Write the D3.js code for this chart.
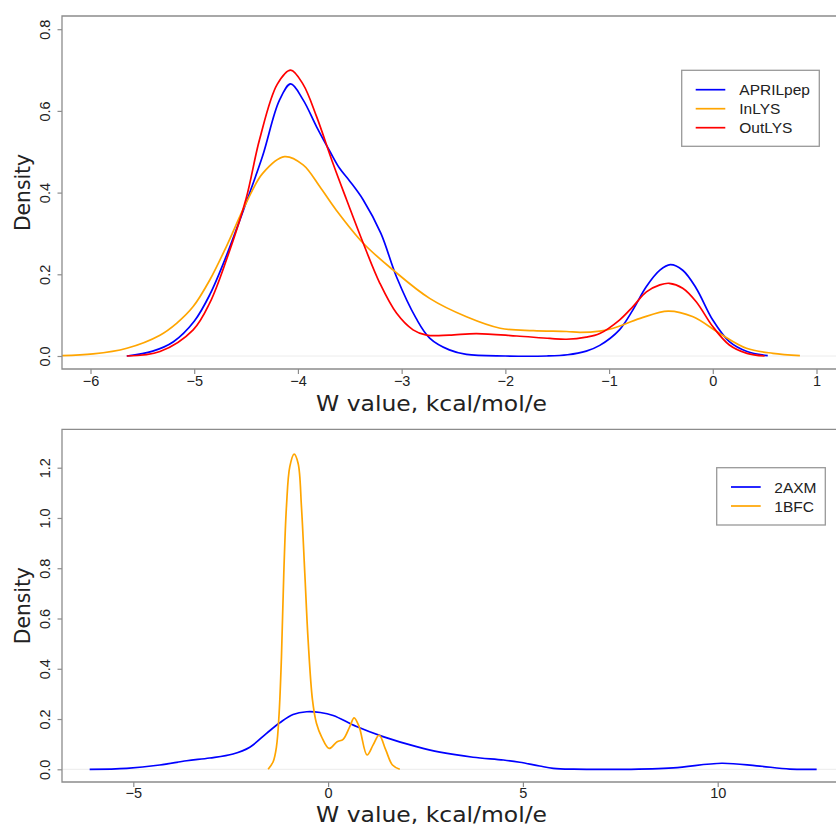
<!DOCTYPE html>
<html>
<head>
<meta charset="utf-8">
<script src="https://cdn.jsdelivr.net/npm/d3@7"></script>
<style>
  body { margin: 0; background: #fff; }
  text { fill: #222; }
</style>
</head>
<body>
<svg id="chart" width="836" height="827"></svg>
<script>
// density curves, [W value, density]
const aprilpep = [[-5.65,0],[-5.4,0.012],[-5.2,0.035],[-5.0,0.085],[-4.85,0.15],[-4.69,0.245],[-4.5,0.375],
  [-4.34,0.49],[-4.18,0.625],[-4.07,0.666],[-3.95,0.627],[-3.82,0.561],[-3.69,0.5],[-3.6,0.46],[-3.5,0.428],
  [-3.37,0.382],[-3.2,0.3],[-3.05,0.194],[-2.86,0.092],[-2.73,0.044],[-2.54,0.015],[-2.375,0.004],[-2.0,0.0],
  [-1.6,0.0],[-1.4,0.003],[-1.22,0.012],[-1.09,0.026],[-0.9,0.064],[-0.77,0.113],[-0.64,0.17],[-0.51,0.21],
  [-0.41,0.2235],[-0.29,0.21],[-0.16,0.166],[0.0,0.088],[0.16,0.035],[0.33,0.011],[0.53,0.001]];

const inlys = [[-6.4,0.0],[-5.975,0.005],[-5.65,0.019],[-5.33,0.051],[-5.17,0.08],[-5.01,0.121],[-4.85,0.186],
  [-4.69,0.268],[-4.5,0.374],[-4.34,0.447],[-4.13,0.488],[-3.95,0.468],[-3.79,0.415],[-3.63,0.357],[-3.37,0.276],
  [-3.08,0.21],[-2.73,0.141],[-2.375,0.096],[-2.05,0.068],[-1.73,0.062],[-1.41,0.06],[-1.28,0.058],[-1.09,0.061],
  [-0.96,0.068],[-0.7,0.092],[-0.43,0.11],[-0.19,0.096],[0.068,0.055],[0.325,0.019],[0.58,0.0065],[0.84,0.001]];

const outlys = [[-5.65,0],[-5.33,0.011],[-5.01,0.064],[-4.85,0.13],[-4.69,0.235],[-4.5,0.385],[-4.37,0.53],
  [-4.2,0.665],[-4.07,0.70],[-3.95,0.665],[-3.82,0.586],[-3.66,0.47],[-3.53,0.382],[-3.37,0.276],[-3.21,0.178],
  [-3.05,0.105],[-2.89,0.064],[-2.76,0.051],[-2.54,0.051],[-2.28,0.055],[-1.89,0.049],[-1.57,0.043],[-1.41,0.041],
  [-1.22,0.046],[-1.09,0.055],[-0.9,0.088],[-0.77,0.121],[-0.64,0.157],[-0.51,0.174],[-0.42,0.178],[-0.29,0.166],
  [-0.16,0.133],[0.0,0.072],[0.16,0.027],[0.33,0.0065],[0.50,0.0]];

const axm2 = [[-6.12,0],[-5.17,0.004],[-4.32,0.017],[-3.63,0.034],[-3.04,0.045],[-2.44,0.061],[-2.01,0.088],
  [-1.58,0.143],[-1.24,0.185],[-0.9,0.218],[-0.55,0.229],[-0.2,0.226],[0.13,0.214],[0.73,0.17],[1.41,0.13],[2.27,0.09],
  [2.87,0.068],[3.72,0.048],[4.5,0.037],[4.92,0.028],[5.43,0.013],[5.78,0.004],[6.3,0.0005],[7.57,0],
  [8.86,0.006],[10.1,0.024],[11.0,0.014],[11.85,0.001],[12.54,0]];

const bfc1 = [[-1.539,0],[-1.411,0.03],[-1.325,0.09],[-1.257,0.223],[-1.197,0.448],[-1.137,0.78],[-1.069,1.045],
  [-0.983,1.204],[-0.872,1.254],[-0.769,1.217],[-0.684,1.045],[-0.598,0.78],[-0.513,0.514],[-0.401,0.276],
  [-0.299,0.183],[-0.17,0.13],[0.026,0.083],[0.232,0.11],[0.386,0.119],[0.557,0.17],[0.668,0.205],[0.796,0.17],
  [1.0,0.057],[1.156,0.097],[1.31,0.136],[1.48,0.077],[1.652,0.017],[1.84,0]];

const topTicksX = [-6, -5, -4, -3, -2, -1, 0, 1];
const topTicksY = [0, 0.2, 0.4, 0.6, 0.8];
const botTicksX = [-5, 0, 5, 10];
const botTicksY = [0, 0.2, 0.4, 0.6, 0.8, 1.0, 1.2];
const topNames = ["APRILpep", "InLYS", "OutLYS"];
const botNames = ["2AXM", "1BFC"];
const xTitle = "W value, kcal/mol/e";
const yTitle = "Density";

const svg = d3.select("#chart");
const boxCol = "#8c8c8c";

function panel(o) {
  const g = svg.append("g");
  const x = d3.scaleLinear().domain(o.xd).range(o.xr);
  const y = d3.scaleLinear().domain(o.yd).range(o.yr);

  const clipId = "clip" + o.id;
  svg.append("clipPath").attr("id", clipId)
    .append("rect").attr("x", o.left).attr("y", o.top)
    .attr("width", 836 - o.left).attr("height", o.bottom - o.top);

  // zero line
  g.append("line").attr("x1", o.left).attr("x2", 836)
    .attr("y1", y(0)).attr("y2", y(0))
    .attr("stroke", "#ececec").attr("stroke-width", 1);

  const line = d3.line()
    .x(d => x(d[0])).y(d => y(d[1]))
    .curve(d3.curveCatmullRom.alpha(0.5));

  g.append("g").attr("clip-path", "url(#" + clipId + ")")
    .selectAll("path").data(o.series).enter()
    .append("path")
    .attr("d", d => line(d.values))
    .attr("fill", "none")
    .attr("stroke", d => d.color)
    .attr("stroke-width", 1.7);

  // box (left, top, bottom; right edge falls outside the picture)
  g.append("path")
    .attr("d", `M840,${o.top}H${o.left}V${o.bottom}H840`)
    .attr("fill", "none").attr("stroke", boxCol).attr("stroke-width", 1.3);

  const xa = g.append("g").attr("transform", `translate(0,${o.bottom})`)
    .call(d3.axisBottom(x).tickValues(o.xt).tickSize(5).tickSizeOuter(0).tickPadding(o.tpad)
      .tickFormat(d3.format("d")));
  xa.select(".domain").remove();
  xa.selectAll("line").attr("stroke", boxCol).attr("stroke-width", 1.2);
  xa.selectAll("text").attr("fill", "#222")
    .style("font-family", "'Liberation Sans', Arial, sans-serif").style("font-size", "14.5px");

  const ya = g.append("g").attr("transform", `translate(${o.left},0)`)
    .call(d3.axisLeft(y).tickValues(o.yt).tickSize(4.5).tickSizeOuter(0).tickFormat(d3.format(".1f")));
  ya.select(".domain").remove();
  ya.selectAll("line").attr("stroke", boxCol).attr("stroke-width", 1.2);
  ya.selectAll("text")
    .attr("x", 0).attr("y", -12).attr("dy", null)
    .attr("transform", "rotate(-90)")
    .attr("text-anchor", "middle").attr("fill", "#222")
    .style("font-family", "'Liberation Sans', Arial, sans-serif").style("font-size", "14.5px");

  g.append("text")
    .attr("x", 431.5).attr("y", o.xlabY)
    .attr("text-anchor", "middle")
    .attr("textLength", 231).attr("lengthAdjust", "spacingAndGlyphs")
    .style("font-family", "'DejaVu Sans', sans-serif").style("font-size", "21px")
    .text(xTitle);

  g.append("text")
    .attr("transform", `translate(30,${(o.top + o.bottom) / 2}) rotate(-90)`)
    .attr("text-anchor", "middle")
    .attr("textLength", 77).attr("lengthAdjust", "spacingAndGlyphs")
    .style("font-family", "'DejaVu Sans', sans-serif").style("font-size", "22px")
    .text(yTitle);

  // legend
  const L = o.legend;
  const lg = g.append("g");
  lg.append("rect").attr("x", L.x).attr("y", L.y).attr("width", L.w).attr("height", L.h)
    .attr("fill", "#fff").attr("stroke", "#999").attr("stroke-width", 1.3);
  const items = lg.selectAll("g.item").data(o.series).enter().append("g")
    .attr("transform", (d, i) => `translate(0,${L.y0 + i * L.step})`);
  items.append("line").attr("x1", L.lx1).attr("x2", L.lx2)
    .attr("stroke", d => d.color).attr("stroke-width", 1.7);
  items.append("text").attr("x", L.tx).attr("dy", "0.36em")
    .style("font-family", "'Liberation Sans', Arial, sans-serif").style("font-size", "15.5px")
    .text(d => d.name);
}

panel({
  id: "top", left: 62, top: 16, bottom: 369, xlabY: 410.5, tpad: 2,
  xd: [-6, 1], xr: [90.5, 816.5], yd: [0, 0.8], yr: [356, 29.2],
  xt: topTicksX, yt: topTicksY,
  series: [
    { name: topNames[0], values: aprilpep, color: "blue" },
    { name: topNames[1], values: inlys, color: "orange" },
    { name: topNames[2], values: outlys, color: "red" }
  ],
  legend: { x: 681.7, y: 70.3, w: 137.6, h: 76, y0: 89.7, step: 19, lx1: 695.7, lx2: 725.3, tx: 739.3 }
});

panel({
  id: "bot", left: 62, top: 429.3, bottom: 782, xlabY: 821.5, tpad: 1,
  xd: [-5, 10], xr: [133.3, 717.7], yd: [0, 1.2], yr: [769.3, 467.7],
  xt: botTicksX, yt: botTicksY,
  series: [
    { name: botNames[0], values: axm2, color: "blue" },
    { name: botNames[1], values: bfc1, color: "orange" }
  ],
  legend: { x: 716.7, y: 467.7, w: 108.6, h: 57.3, y0: 487, step: 19, lx1: 731, lx2: 760.7, tx: 774.3 }
});
</script>
</body>
</html>
